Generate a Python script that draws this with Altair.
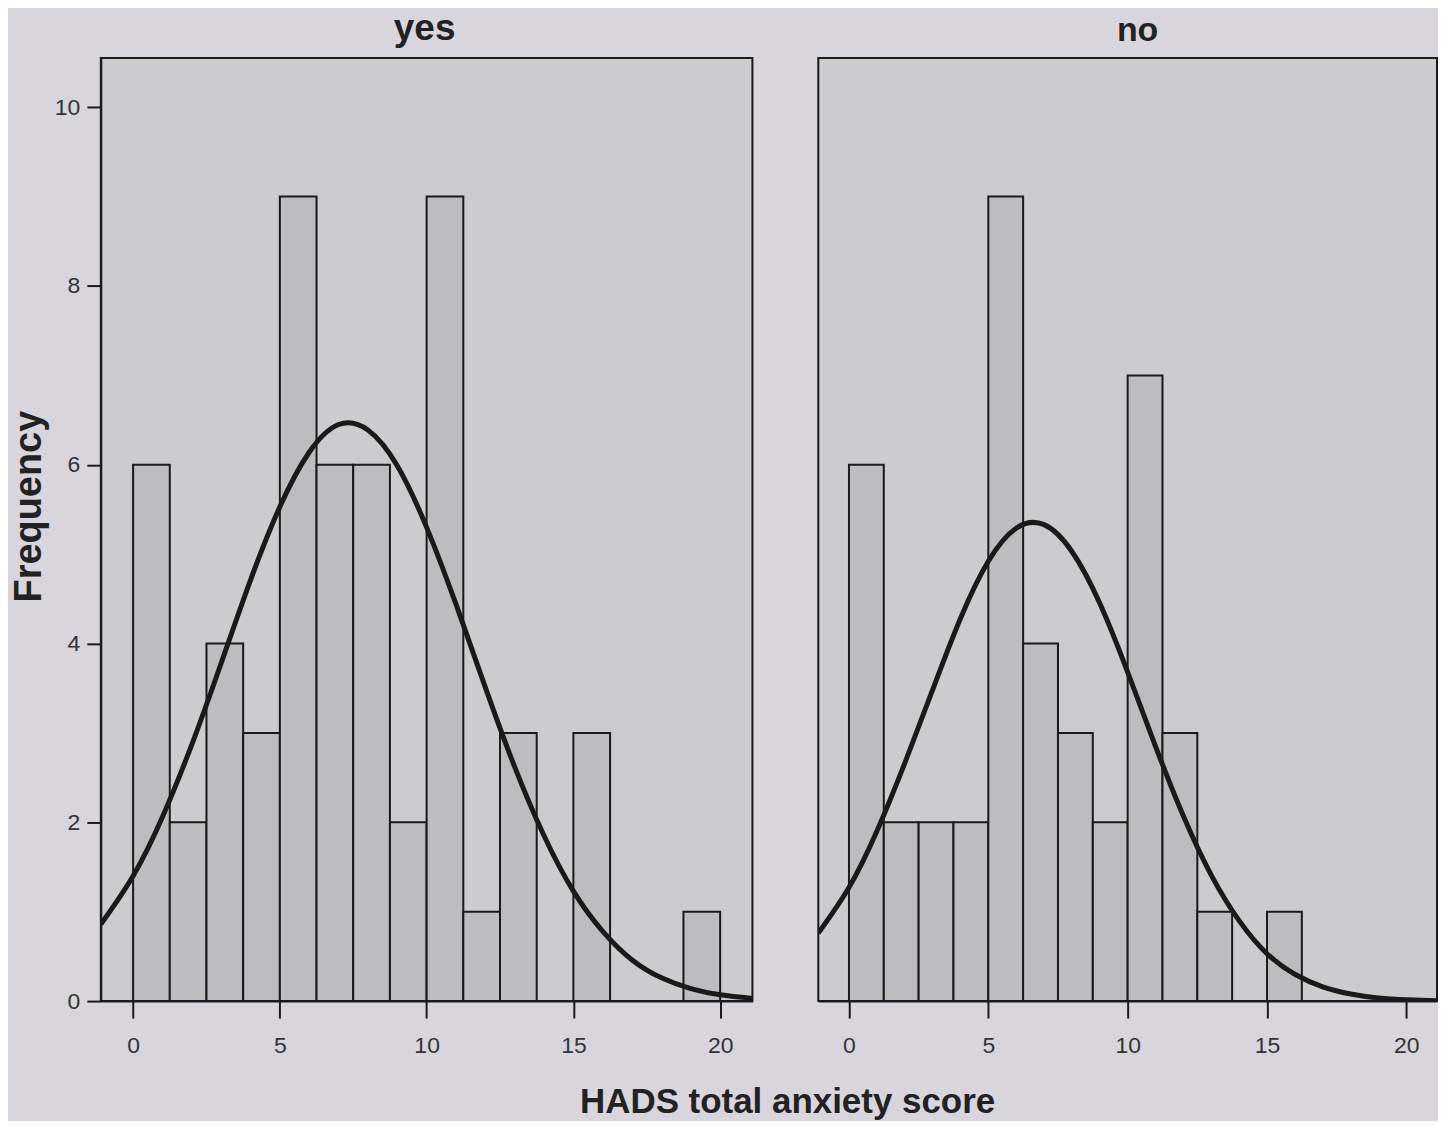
import altair as alt
import pandas as pd

# ---- data ----
bin_starts = [0.0, 1.25, 2.5, 3.75, 5.0, 6.25, 7.5, 8.75, 10.0, 11.25, 12.5, 13.75, 15.0, 16.25, 17.5, 18.75]
bin_width = 1.25
counts_yes = [6, 2, 4, 3, 9, 6, 6, 2, 9, 1, 3, 0, 3, 0, 0, 1]
counts_no = [6, 2, 2, 2, 9, 4, 3, 2, 7, 3, 1, 0, 1, 0, 0, 0]

curve_x = [-1.1, 0, 1, 2, 3, 4, 5, 6, 7, 8, 9, 10, 11, 12, 13, 14, 15, 16, 17, 18, 19, 20, 21.1]
curve_yes = [0.86, 1.40, 2.06, 2.87, 3.78, 4.71, 5.53, 6.14, 6.45, 6.39, 5.99, 5.30, 4.44,
             3.51, 2.62, 1.85, 1.23, 0.78, 0.46, 0.26, 0.14, 0.07, 0.03]
curve_no = [0.76, 1.27, 1.90, 2.66, 3.48, 4.28, 4.92, 5.29, 5.33, 5.03, 4.45, 3.68, 2.85,
            2.07, 1.41, 0.90, 0.53, 0.30, 0.16, 0.08, 0.035, 0.015, 0.005]

x_ticks = [0, 5, 10, 15, 20]
y_ticks = [0, 2, 4, 6, 8, 10]

# ---- styles ----
FONT = "Liberation Sans"
BG = "#d8d6dc"
PLOT = "#cccbce"
BAR = "#bdbcbf"
EDGE = "#1a1a1a"

xs = alt.Scale(domain=[-1.1, 21.1], nice=False, zero=False)
ys = alt.Scale(domain=[0, 10.55], nice=False)


def panel(name, counts, curve, width, show_y, title_size, title_dx):
    bars = pd.DataFrame({"start": bin_starts, "count": counts})
    bars["end"] = bars["start"] + bin_width
    bars = bars[bars["count"] > 0]
    line = pd.DataFrame({"x": curve_x, "y": curve})

    xaxis = alt.Axis(values=x_ticks, title=None, tickSize=17, labelPadding=17)
    if show_y:
        yaxis = alt.Axis(values=y_ticks, title="Frequency", tickSize=14, labelPadding=7,
                         titleFontSize=38, titleFontWeight="bold", titleColor="#222",
                         titlePadding=6, titleY=449)
    else:
        yaxis = None

    b = alt.Chart(bars).mark_rect(fill=BAR, stroke=EDGE, strokeWidth=2).encode(
        x=alt.X("start:Q", scale=xs, axis=xaxis),
        x2="end:Q",
        y=alt.Y("count:Q", scale=ys, axis=yaxis),
        y2=alt.datum(0),
    )
    l = alt.Chart(line).mark_line(color=EDGE, strokeWidth=5, interpolate="natural", clip=True).encode(
        x=alt.X("x:Q", scale=xs, axis=xaxis),
        y=alt.Y("y:Q", scale=ys, axis=yaxis),
    )
    return alt.layer(b, l).properties(
        width=width, height=945,
        title=alt.TitleParams(name, fontSize=title_size, fontWeight="bold", font=FONT,
                              color="#222", offset=10, anchor="middle", dx=title_dx),
    )


left = panel("yes", counts_yes, curve_yes, 653, True, 37, -2)
right = panel("no", counts_no, curve_no, 620, False, 34, 10)

chart = alt.hconcat(left, right, spacing=64).properties(
    title=alt.TitleParams("HADS total anxiety score", orient="bottom", anchor="middle",
                          fontSize=35, fontWeight="bold", font=FONT, color="#222",
                          offset=26, dx=64),
    background=BG,
    padding={"left": 1, "top": 0, "right": 0, "bottom": 0},
).configure_view(
    stroke=EDGE, strokeWidth=2, fill=PLOT
).configure_axis(
    grid=False, labelFont=FONT, titleFont=FONT, labelFontSize=23, labelColor="#333",
    tickColor=EDGE, tickWidth=2, domainColor=EDGE, domainWidth=2,
)

chart.save("out.html", embed_options={"renderer": "svg", "actions": False})
